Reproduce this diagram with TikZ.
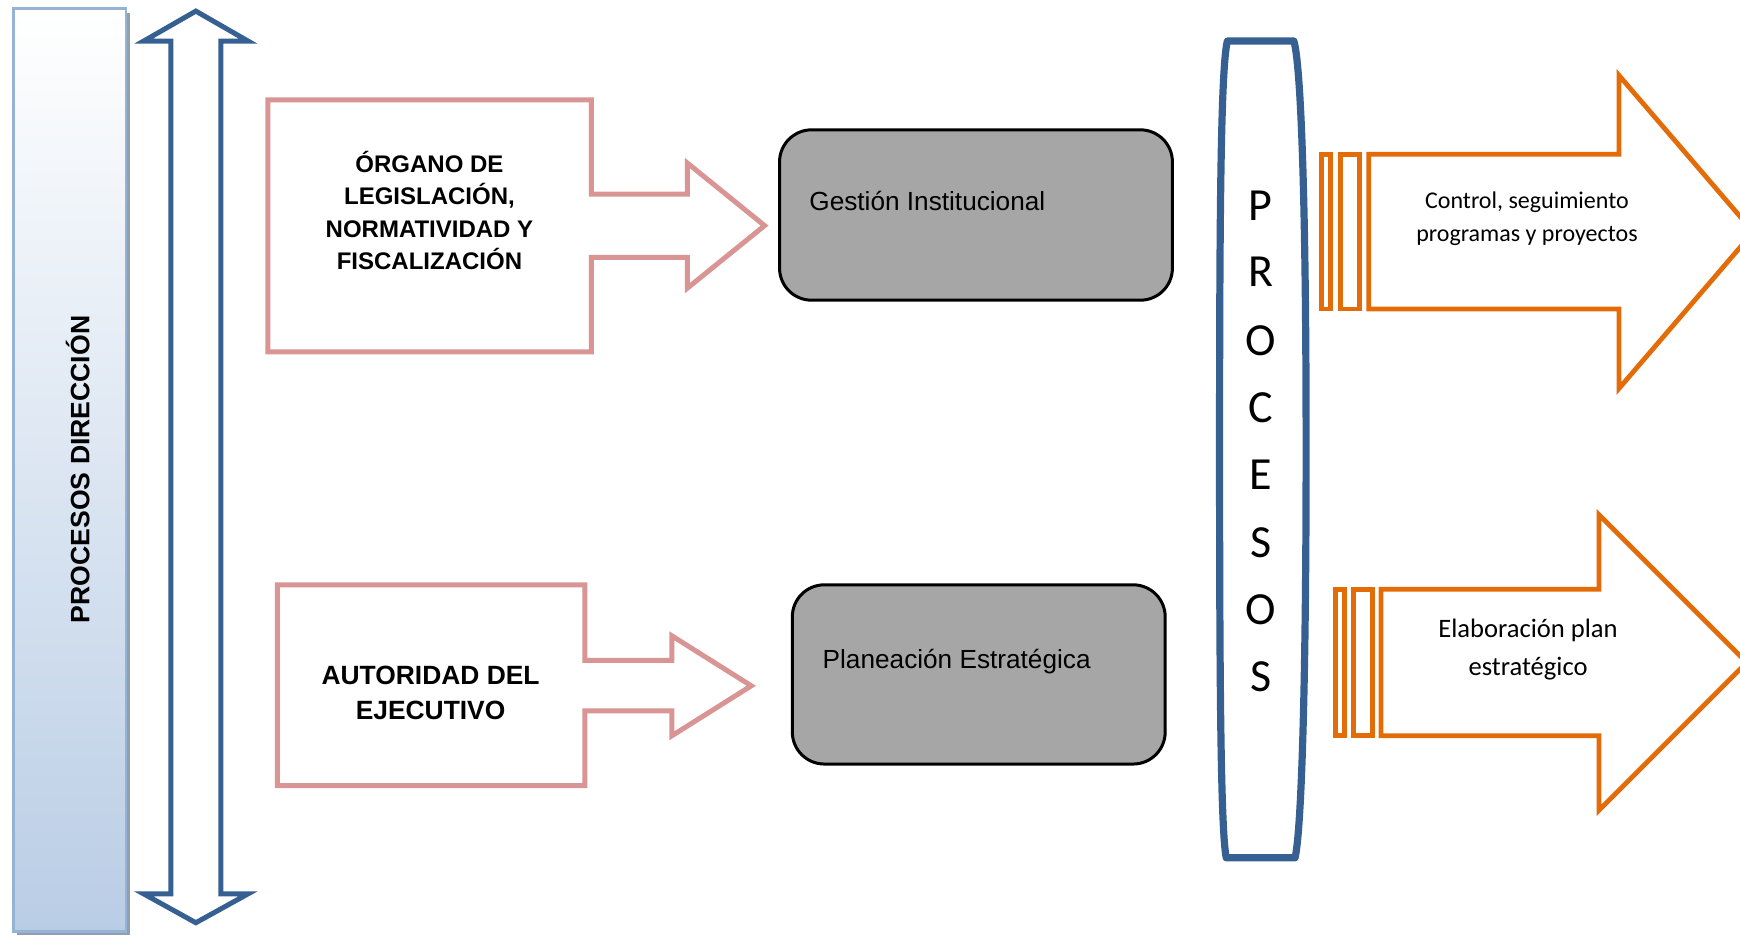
\documentclass[tikz,border=0pt]{standalone}
\usepackage{fontspec}
\setmainfont{Liberation Sans}
\newfontfamily\carlito{Carlito}

\definecolor{navy}{HTML}{376092}
\definecolor{rosa}{HTML}{D99594}
\definecolor{naranja}{HTML}{E36C09}
\definecolor{gris}{HTML}{A6A6A6}
\definecolor{panelline}{HTML}{95B3D7}
\definecolor{panelfill}{HTML}{B9CDE5}
\definecolor{panelshadow}{HTML}{939FAF}

\tikzset{
  bluearrow/.style={draw=navy, line width=2.5pt, fill=white},
  pinkarrow/.style={draw=rosa, line width=2.5pt, fill=white},
  orangearrow/.style={draw=naranja, line width=2.4pt, fill=white},
  graybox/.style={draw=black, line width=1.5pt, fill=gris, rounded corners=16pt},
  boldlabel/.style={font=\bfseries\fontsize{12}{16.2}\selectfont, align=center, inner sep=0pt},
  graylabel/.style={font=\fontsize{13.1}{16}\selectfont, anchor=base west, inner sep=0pt},
  letter/.style={font=\carlito\fontsize{23}{26}\selectfont, inner sep=0pt},
}

\begin{document}
\begin{tikzpicture}[x=0.55485pt, y=-0.55485pt]
\useasboundingbox (0,0) rectangle (1568,843);

% left panel with shadow and vertical gradient
\fill[panelshadow] (15.5,11.5) rectangle (117,843);
\shade[top color=white, bottom color=panelfill] (12,8) rectangle (113.5,839.5);
\draw[panelline, line width=1.4pt] (12,8) rectangle (113.5,839.5);
\node[rotate=90, font=\bfseries\fontsize{13.3}{16}\selectfont, inner sep=0pt] (direccion) at (70,423) {PROCESOS DIRECCIÓN};

% vertical double arrow
\draw[bluearrow] (176.5,10) -- (223.5,37) -- (199,37) -- (199,805.5) -- (223.5,805.5)
  -- (176.5,831.5) -- (129.5,805.5) -- (154,805.5) -- (154,37) -- (129.5,37) -- cycle;

% upper pink arrow
\draw[pinkarrow] (241.5,90) -- (533,90) -- (533,175) -- (619.5,175) -- (619.5,147)
  -- (689,203.3) -- (619.5,259.6) -- (619.5,232) -- (533,232) -- (533,317) -- (241.5,317) -- cycle;
\node[boldlabel] (organo) at (387,189.5) {ÓRGANO DE\\LEGISLACIÓN,\\NORMATIVIDAD Y\\FISCALIZACIÓN};

% lower pink arrow
\draw[pinkarrow] (250,527) -- (527,527) -- (527,595) -- (605.5,595) -- (605.5,573)
  -- (677,618) -- (605.5,663) -- (605.5,640.5) -- (527,640.5) -- (527,708) -- (250,708) -- cycle;
\node[boldlabel, font=\bfseries\fontsize{13.2}{17.2}\selectfont] (autoridad) at (388,624.5) {AUTORIDAD DEL\\EJECUTIVO};

% gray process boxes
\draw[graybox] (702.5,117) rectangle (1056.5,270.5);
\node[graylabel] (gestion) at (729,189.5) {Gestión Institucional};
\draw[graybox] (714,527) rectangle (1050,688.5);
\node[graylabel] (planeacion) at (741,602.5) {Planeación Estratégica};

% PROCESOS column
\draw[navy, line width=3.6pt, line join=round]
  (1106,37) -- (1166,37)
  .. controls (1173,62) and (1177,200) .. (1177,405)
  .. controls (1177,610) and (1173,748) .. (1167,773)
  -- (1105,773)
  .. controls (1100,748) and (1099,610) .. (1099,405)
  .. controls (1099,200) and (1100,62) .. (1106,37) -- cycle;
\foreach \ch/\yy [count=\i] in {P/185,R/245,O/307,C/367,E/428,S/489,O/549,S/610}
  \node[letter] (proc\i) at (1136,\yy) {\ch};

% upper orange arrow with stripes
\draw[orangearrow] (1190.5,139) rectangle (1198.8,278.5);
\draw[orangearrow] (1208.3,139) rectangle (1225.3,278.5);
\draw[orangearrow] (1233.5,139) -- (1459,139) -- (1459,68) -- (1580,209)
  -- (1459,350) -- (1459,278.5) -- (1233.5,278.5) -- cycle;
\node[font=\carlito\fontsize{12}{16.6}\selectfont, align=center, inner sep=0pt] (control) at (1376,197) {Control, seguimiento\\programas y proyectos};

% lower orange arrow with stripes
\draw[orangearrow] (1203.3,531) rectangle (1211.8,663);
\draw[orangearrow] (1220,531) rectangle (1236.5,663);
\draw[orangearrow] (1244.5,531) -- (1441,531) -- (1441,464) -- (1574,597)
  -- (1441,730) -- (1441,663) -- (1244.5,663) -- cycle;
\node[font=\carlito\fontsize{13.3}{18.9}\selectfont, align=center, inner sep=0pt] (elaboracion) at (1377,585) {Elaboración plan\\estratégico};
\end{tikzpicture}
\end{document}
